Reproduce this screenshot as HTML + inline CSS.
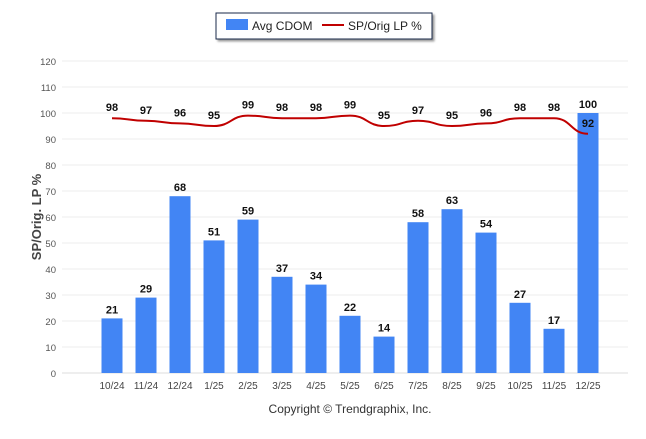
<!DOCTYPE html>
<html><head><meta charset="utf-8"><style>
body{margin:0;background:#fff;font-family:"Liberation Sans",sans-serif;}
svg text{font-family:"Liberation Sans",sans-serif;}
</style></head><body>
<svg id="c" width="646" height="434" xmlns="http://www.w3.org/2000/svg">
<g>
<rect x="216" y="13" width="216" height="26" fill="#fff" stroke="#1a2a4a" stroke-width="1" style="filter:drop-shadow(2px 2px 1px #999)"/>
<rect x="226" y="19" width="22" height="11" fill="#4285f4"/>
<text x="252" y="30" font-size="12" fill="#222">Avg CDOM</text>
<line x1="322" y1="25" x2="344" y2="25" stroke="#c00000" stroke-width="2"/>
<text x="348" y="30" font-size="12" fill="#222">SP/Orig LP %</text>
</g>
<text transform="translate(41,217) rotate(-90)" text-anchor="middle" font-size="13" font-weight="bold" fill="#444">SP/Orig. LP %</text>
<text x="350" y="413" text-anchor="middle" font-size="12" fill="#333">Copyright © Trendgraphix, Inc.</text>
<g id="grid"></g><g id="bars"></g><g id="line"></g><g id="labels"></g>
</svg>
<script>
const categories=["10/24","11/24","12/24","1/25","2/25","3/25","4/25","5/25","6/25","7/25","8/25","9/25","10/25","11/25","12/25"];
const cdomValues=[21,29,68,51,59,37,34,22,14,58,63,54,27,17,100];
const spOrigValues=[98,97,96,95,99,98,98,99,95,97,95,96,98,98,92];
const yTicks=[0,10,20,30,40,50,60,70,80,90,100,110,120];
const NS="http://www.w3.org/2000/svg";
const x0=112,step=34,bw=21,yBase=373,yTop=61;
const xs=i=>x0+i*step;
const ys=v=>yBase-(v/120)*(yBase-yTop);
function el(t,a,p){const e=document.createElementNS(NS,t);for(const k in a)e.setAttribute(k,a[k]);document.getElementById(p).appendChild(e);return e;}
yTicks.forEach(t=>{
 const l=el('line',{x1:62,x2:628,y1:ys(t),y2:ys(t),stroke:t===0?'#ddd':'#ececec','stroke-width':1},'grid');
 
 
 const tx=el('text',{x:56,y:ys(t)+4,'text-anchor':'end','font-size':9.5,fill:'#555'},'grid');tx.textContent=t;
 
 
});
categories.forEach((c,i)=>{
 const tx=el('text',{x:xs(i),y:389,'text-anchor':'middle','font-size':10,fill:'#444'},'grid');tx.textContent=c;
 
 
 const b=el('rect',{x:xs(i)-bw/2,y:ys(cdomValues[i]),width:bw,height:yBase-ys(cdomValues[i]),fill:'#4285f4'},'bars');
 
 
 const bl=el('text',{x:xs(i),y:ys(cdomValues[i])-5,'text-anchor':'middle','font-size':11,'font-weight':'bold',fill:'#111'},'labels');bl.textContent=cdomValues[i];
 
 
 const ll=el('text',{x:xs(i),y:ys(spOrigValues[i])-7,'text-anchor':'middle','font-size':11,'font-weight':'bold',fill:'#111'},'labels');ll.textContent=spOrigValues[i];
 
 
});
let d='';
const pts=spOrigValues.map((v,i)=>[xs(i),ys(v)]);
d='M'+pts[0][0]+','+pts[0][1];
for(let i=1;i<pts.length;i++){const p=pts[i-1],q=pts[i],mx=(p[0]+q[0])/2;d+=` C${mx},${p[1]} ${mx},${q[1]} ${q[0]},${q[1]}`;}
const ln=el('path',{d:d,fill:'none',stroke:'#c00000','stroke-width':2},'line');


</script>
</body></html>
